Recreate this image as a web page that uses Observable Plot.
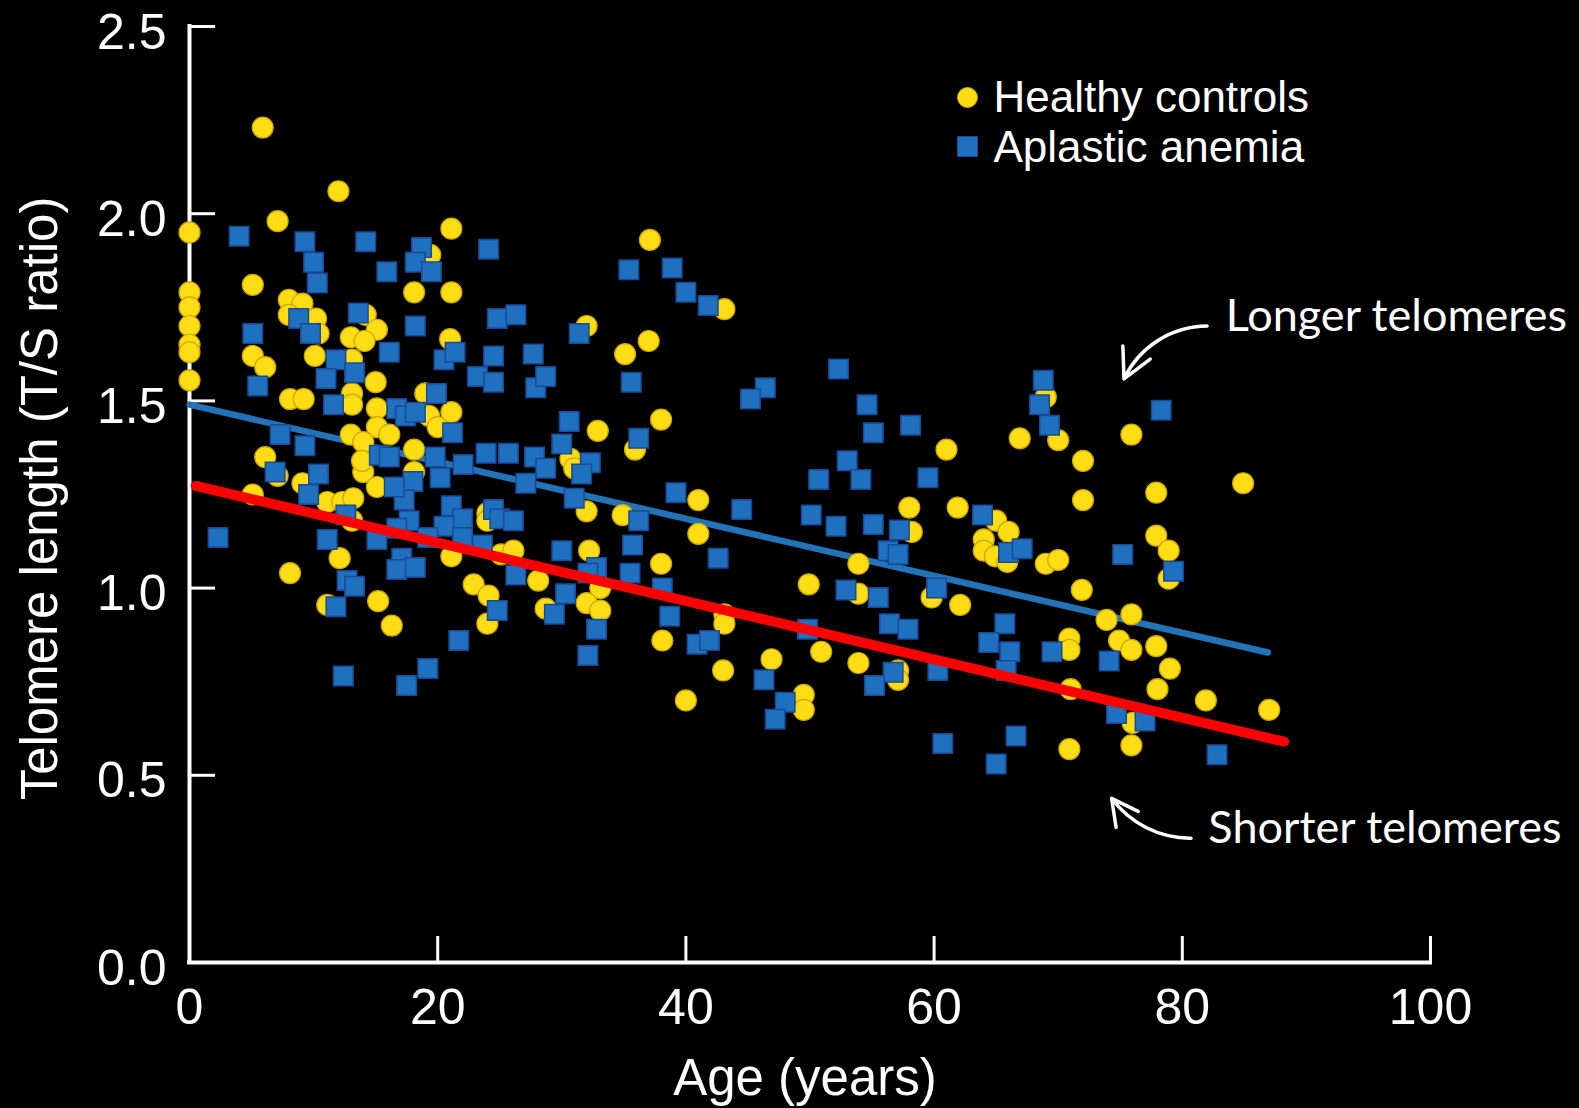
<!DOCTYPE html>
<html>
<head>
<meta charset="utf-8">
<script src="https://cdn.jsdelivr.net/npm/d3@7"></script>
<script src="https://cdn.jsdelivr.net/npm/@observablehq/plot@0.6"></script>
<style>
  html, body { margin: 0; padding: 0; background: #000; }
  #chart { width: 1579px; height: 1108px; }
</style>
</head>
<body>
<div id="chart"></div>
<script>
// Telomere length (T/S ratio) by age, healthy controls vs. aplastic anemia patients.

// Healthy controls: age (years) and T/S ratio, paired by index
const healthyAge = [
  5.9, 12.0, 7.1, 21.1, 0.0, 19.4, 5.1, 18.1, 21.1, 0.0, 0.0, 0.0, 0.0, 0.0, 0.0,
  8.0, 9.1, 8.0, 10.2, 10.4, 14.2, 15.1, 13.0, 14.1, 21.0, 5.1, 6.1, 10.1, 13.1, 15.0,
  8.1, 9.2, 13.1, 13.1, 15.1, 15.1, 16.1, 19.0, 19.3, 20.0, 21.1, 13.0, 14.0, 18.1, 6.1,
  7.1, 5.1, 9.1, 11.1, 12.3, 13.2, 13.1, 14.0, 13.9, 15.1, 18.1, 12.1, 8.1, 11.1, 15.2, 16.3,
  21.1, 24.0, 24.0, 25.1, 26.1, 22.9, 24.1, 24.0, 28.1, 28.7,
  37.1, 43.1, 32.0, 37.0, 35.1, 38.0, 32.9, 35.9,
  69.0, 66.9, 70.0, 75.9, 61.0,
  30.7, 31.0, 32.0, 34.9, 41.0, 41.0, 32.2, 38.0, 33.1, 32.0, 33.1, 38.1, 43.1, 43.1, 43.0, 40.0,
  46.9, 49.5, 49.5, 49.9, 50.9, 53.9, 53.9, 53.9, 57.1, 57.1, 58.0, 58.2, 59.8,
  72.0, 72.0, 77.9, 84.9, 61.9, 65.0, 66.0, 64.0, 64.0, 64.9, 65.9, 69.0, 70.0, 77.9, 78.9, 78.9,
  62.1, 71.9, 73.9, 75.9, 70.9, 70.9, 74.9, 75.9, 77.9, 79.0, 78.0, 71.0, 81.9, 87.0, 76.0, 70.9, 75.9
];
const healthyTS = [
  2.23, 2.06, 1.98, 1.96, 1.95, 1.89, 1.81, 1.79, 1.79, 1.79, 1.75, 1.70, 1.65, 1.63, 1.555,
  1.77, 1.76, 1.73, 1.72, 1.68, 1.73, 1.69, 1.67, 1.66, 1.665, 1.62, 1.59, 1.62, 1.61, 1.55,
  1.505, 1.505, 1.52, 1.49, 1.48, 1.43, 1.41, 1.52, 1.46, 1.43, 1.47, 1.41, 1.39, 1.37, 1.35,
  1.30, 1.25, 1.28, 1.23, 1.23, 1.24, 1.18, 1.31, 1.34, 1.27, 1.31, 1.08, 1.04, 0.955, 0.965, 0.90,
  1.085, 1.20, 1.18, 1.09, 1.10, 1.01, 0.98, 0.905, 1.02, 0.945,
  1.93, 1.745, 1.70, 1.66, 1.625, 1.45, 1.42, 1.37,
  1.51, 1.40, 1.395, 1.41, 1.37,
  1.345, 1.32, 1.205, 1.195, 1.235, 1.145, 1.10, 1.065, 1.00, 0.96, 0.94, 0.86, 0.93, 0.905, 0.78, 0.70,
  0.81, 0.715, 0.675, 1.01, 0.83, 1.065, 0.985, 0.80, 0.78, 0.755, 1.215, 1.15, 0.975,
  1.34, 1.235, 1.255, 1.28, 1.215, 1.18, 1.15, 1.13, 1.10, 1.085, 1.07, 1.065, 1.075, 1.14, 1.10, 1.025,
  0.955, 0.995, 0.915, 0.93, 0.865, 0.835, 0.86, 0.835, 0.845, 0.785, 0.73, 0.73, 0.70, 0.675, 0.64, 0.57, 0.58
];

// Aplastic anemia patients: age (years) and T/S ratio, paired by index
const anemiaAge = [
  4.0, 9.3, 14.2, 18.7, 18.2, 19.5, 10.0, 10.3, 15.9, 24.1, 13.6, 8.8, 9.75, 5.1, 18.2, 24.8, 26.3,
  16.1, 11.8, 20.5, 21.4, 24.5, 27.7, 13.3, 5.5, 11.0, 23.2, 24.5, 27.9, 28.7, 11.6, 19.9, 16.7, 17.4, 18.2, 21.2, 7.3, 9.3,
  35.4, 38.9, 40.0, 41.8, 31.4, 52.3, 46.4, 45.2, 35.6, 54.6, 55.1, 58.1, 30.6, 30.0, 36.2,
  68.8, 68.5, 69.3, 78.3,
  6.9, 10.4, 9.6, 12.6, 2.3, 11.1, 15.1, 15.3, 16.1, 18.0, 17.3, 16.5, 19.8, 20.2, 22.05, 23.9, 25.7, 27.8, 28.7, 27.1,
  21.1, 22.0, 24.5, 25.0, 26.1, 17.7, 16.7, 20.5, 19.2, 22.0, 23.6, 17.1, 16.7, 18.2, 26.3, 12.7, 13.3, 11.8, 24.8, 29.4, 30.0, 21.7, 19.2, 17.5, 12.4,
  32.3, 31.6, 31.0, 36.2, 39.2, 44.5, 35.7, 32.8, 32.1, 35.5, 30.3, 32.8, 32.1, 38.1, 38.7, 42.6, 40.9, 41.9, 46.3, 48.0, 47.2, 49.8,
  50.7, 53.0, 54.1, 50.1, 52.1, 55.1, 57.2, 56.3, 57.1, 52.9, 55.5, 56.4, 57.9, 56.7, 55.2, 59.5,
  63.9, 66.0, 67.1, 75.2, 79.3, 60.2, 65.7, 64.4, 66.1, 69.5, 74.1, 60.3, 65.8, 74.7, 77.0, 60.7, 66.6, 65.0, 82.8
];
const anemiaTS = [
  1.94, 1.925, 1.925, 1.91, 1.87, 1.845, 1.87, 1.815, 1.845, 1.905, 1.735, 1.72, 1.68, 1.68, 1.70, 1.72, 1.73,
  1.63, 1.61, 1.61, 1.63, 1.62, 1.625, 1.575, 1.54, 1.56, 1.565, 1.55, 1.535, 1.565, 1.49, 1.52, 1.48, 1.46, 1.47, 1.415, 1.41, 1.38,
  1.85, 1.855, 1.79, 1.755, 1.68, 1.585, 1.535, 1.505, 1.55, 1.49, 1.415, 1.435, 1.445, 1.385, 1.40,
  1.555, 1.49, 1.435, 1.475,
  1.31, 1.305, 1.25, 1.195, 1.135, 1.13, 1.13, 1.355, 1.35, 1.285, 1.235, 1.27, 1.35, 1.295, 1.33, 1.36, 1.36, 1.35, 1.32, 1.28,
  1.22, 1.185, 1.21, 1.185, 1.18, 1.18, 1.16, 1.165, 1.135, 1.135, 1.115, 1.08, 1.05, 1.055, 1.035, 1.02, 1.005, 0.95, 0.94, 0.93, 1.10, 0.86, 0.785, 0.74, 0.765,
  1.335, 1.305, 1.24, 1.18, 1.255, 1.21, 1.115, 1.055, 1.04, 1.04, 0.985, 0.89, 0.82, 1.00, 0.925, 1.08, 0.85, 0.86, 0.755, 0.695, 0.65, 0.89,
  1.29, 1.34, 1.29, 1.195, 1.165, 1.17, 1.155, 1.10, 1.09, 0.995, 0.975, 0.905, 0.89, 0.775, 0.74, 1.295,
  1.195, 1.095, 1.105, 1.09, 1.045, 1.00, 0.905, 0.855, 0.83, 0.83, 0.805, 0.78, 0.78, 0.665, 0.645, 0.585, 0.605, 0.53, 0.555
];

// Fitted trend lines: end points [age, T/S]
const upperFitAge = [0, 86.9];
const upperFitTS = [1.49, 0.828];
const lowerFitAge = [0.5, 88.2];
const lowerFitTS = [1.273, 0.59];

// Axis ticks
const xTicks = [0, 20, 40, 60, 80, 100];
const yTicks = [0, 0.5, 1.0, 1.5, 2.0, 2.5];

// Legend and annotation text
const seriesNames = ["Healthy controls", "Aplastic anemia"];
const noteText = ["Longer telomeres", "Shorter telomeres"];
const noteAge = [83.5, 82.1];
const noteTS = [1.725, 0.358];
// arrows: from [age, T/S] to [age, T/S]
const arrowFromAge = [82.0, 80.7];
const arrowFromTS = [1.70, 0.332];
const arrowToAge = [75.3, 74.3];
const arrowToTS = [1.559, 0.4385];

const healthy = healthyAge.map((a, i) => ({age: a, ts: healthyTS[i]}));
const anemia = anemiaAge.map((a, i) => ({age: a, ts: anemiaTS[i]}));
const upperFit = upperFitAge.map((a, i) => ({age: a, ts: upperFitTS[i]}));
const lowerFit = lowerFitAge.map((a, i) => ({age: a, ts: lowerFitTS[i]}));
const notes = noteText.map((t, i) => ({text: t, age: noteAge[i], ts: noteTS[i]}));
const arrows = arrowFromAge.map((a, i) => ({x1: a, y1: arrowFromTS[i], x2: arrowToAge[i], y2: arrowToTS[i]}));

const YELLOW = "#FFDD14", YELLOW_EDGE = "#CDA800";
const BLUE = "#1F70BE", BLUE_EDGE = "#1A4A96";

const W = 1579, H = 1108;
const mL = 189, mR = 149, mT = 26, mB = 146;
const innerW = W - mL - mR, innerH = H - mT - mB;
const tickLen = 26;

const chart = Plot.plot({
  width: W,
  height: H,
  marginLeft: mL,
  marginRight: mR,
  marginTop: mT,
  marginBottom: mB,
  x: {domain: [0, 100]},
  y: {domain: [0, 2.5]},
  style: {
    background: "#000",
    color: "#fff",
    fontFamily: "'Liberation Sans', Arial, Helvetica, sans-serif",
    overflow: "visible"
  },
  marks: [
    // axis lines and inward ticks
    Plot.ruleX([0], {stroke: "#fff", strokeWidth: 4, strokeLinecap: "square"}),
    Plot.ruleY([0], {stroke: "#fff", strokeWidth: 4, strokeLinecap: "square"}),
    Plot.tickY(yTicks, {y: d => d, stroke: "#fff", strokeWidth: 3, insetRight: innerW - tickLen}),
    Plot.tickX(xTicks, {x: d => d, stroke: "#fff", strokeWidth: 3, insetTop: innerH - tickLen}),
    Plot.axisY({ticks: yTicks, tickSize: 0, tickPadding: 23, tickFormat: d3.format(".1f"),
      fontSize: 50, fill: "#fff", dy: 6, label: null}),
    Plot.axisX({ticks: xTicks, tickSize: 0, tickPadding: 26, tickFormat: d => String(d),
      fontSize: 50, fill: "#fff", label: null}),
    Plot.text(["Telomere length (T/S ratio)"], {frameAnchor: "left", dx: -149, dy: 4,
      rotate: -90, textAnchor: "middle", lineAnchor: "middle", fontSize: 51, fill: "#fff"}),
    Plot.text(["Age (years)"], {frameAnchor: "bottom", dx: -5, dy: 96, textAnchor: "middle",
      lineAnchor: "top", fontSize: 51, fill: "#fff"}),

    // upper trend line sits beneath the points
    Plot.line(upperFit, {x: "age", y: "ts", stroke: "#2373B9", strokeWidth: 6.5}),

    // data points
    Plot.dot(healthy, {x: "age", y: "ts", r: 10.5, symbol: "circle",
      fill: YELLOW, stroke: YELLOW_EDGE, strokeWidth: 1.2}),
    Plot.dot(anemia, {x: "age", y: "ts", r: 11, symbol: "square",
      fill: BLUE, stroke: BLUE_EDGE, strokeWidth: 1.5}),

    // lower trend line drawn on top
    Plot.line(lowerFit, {x: "age", y: "ts", stroke: "#FF0000", strokeWidth: 10}),

    // legend
    Plot.dot([seriesNames[0]], {frameAnchor: "top-left", dx: 778, dy: 71, r: 10,
      symbol: "circle", fill: YELLOW, stroke: YELLOW_EDGE, strokeWidth: 1}),
    Plot.dot([seriesNames[1]], {frameAnchor: "top-left", dx: 778, dy: 120, r: 11.3,
      symbol: "square", fill: BLUE, stroke: BLUE_EDGE, strokeWidth: 1}),
    Plot.text([seriesNames[0]], {frameAnchor: "top-left", dx: 804, dy: 71, textAnchor: "start",
      lineAnchor: "middle", fontSize: 44, fill: "#fff"}),
    Plot.text([seriesNames[1]], {frameAnchor: "top-left", dx: 804, dy: 121, textAnchor: "start",
      lineAnchor: "middle", fontSize: 44, fill: "#fff"}),

    // annotations
    Plot.arrow([arrows[0]], {x1: "x1", y1: "y1", x2: "x2", y2: "y2", bend: -32,
      stroke: "#fff", strokeWidth: 3.5, headLength: 16, headAngle: 55}),
    Plot.arrow([arrows[1]], {x1: "x1", y1: "y1", x2: "x2", y2: "y2", bend: 27,
      stroke: "#fff", strokeWidth: 3.5, headLength: 16, headAngle: 55}),
    Plot.text(notes, {x: "age", y: "ts", text: "text", textAnchor: "start", lineAnchor: "middle",
      fontFamily: "Lato, 'Open Sans', sans-serif", fontSize: 45, fill: "#fff"})
  ]
});

document.getElementById("chart").appendChild(chart);
</script>
</body>
</html>
